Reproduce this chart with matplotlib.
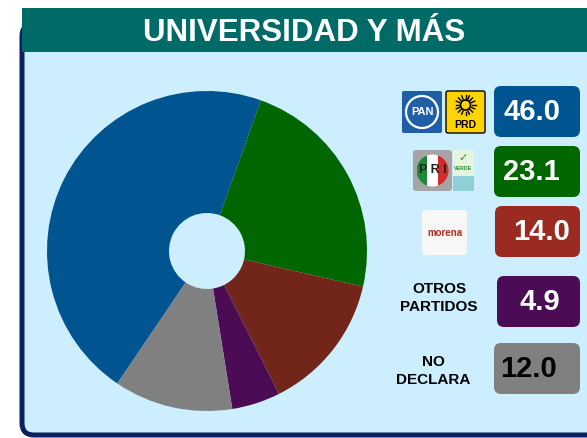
import numpy as np
import matplotlib
matplotlib.use("Agg")
import matplotlib.pyplot as plt
from matplotlib.patches import Rectangle, FancyBboxPatch, Circle

plt.rcParams['font.family'] = ['Liberation Sans', 'DejaVu Sans']

W, H = 587, 438

title = "UNIVERSIDAD Y MÁS"
partidos = ["PAN-PRD", "PRI-PVEM", "MORENA", "OTROS PARTIDOS", "NO DECLARA"]
valores = [46.0, 23.1, 14.0, 4.9, 12.0]
colores_pie = ["#00548f", "#006600", "#722519", "#4b0c55", "#808080"]
colores_caja = ["#00548f", "#006600", "#9b2b20", "#4b0c55", "#808080"]
color_texto = ["white", "white", "white", "white", "black"]

# posiciones de las cajas en pixeles de la imagen (x0, x1, y0, y1)
cajas = [(494, 580, 86, 137), (494, 580, 146, 197), (495, 580, 206, 257),
         (497, 580, 276, 327), (494, 580, 343, 394)]
texto_x = [532, 531, 542, 540, 528]


def Y(y):
    return H - y


fig = plt.figure(figsize=(W / 100, H / 100), dpi=100)
ax = fig.add_axes([0, 0, 1, 1])
ax.set_xlim(0, W)
ax.set_ylim(0, H)
ax.axis("off")

# panel con borde azul marino
panel = FancyBboxPatch((22, Y(435)), 640, 435 - 24,
                       boxstyle="round,pad=0,rounding_size=12",
                       facecolor="#cceeff", edgecolor="#0a2060", lw=3.6)
ax.add_patch(panel)
ax.add_patch(Rectangle((22, Y(52)), W - 22, 44, facecolor="#006b66", lw=0))
ax.text(304, Y(41), title, color="white", fontsize=22.5, fontweight="bold",
        ha="center", va="baseline")

# dona
ax.pie(valores, colors=colores_pie, center=(207, Y(251)), radius=160,
       startangle=90 - 214.1, counterclock=False,
       wedgeprops=dict(width=122, linewidth=0))
ax.set_xlim(0, W)
ax.set_ylim(0, H)
ax.set_aspect("auto")
ax.axis("off")

# cajas con valores
for i, v in enumerate(valores):
    x0, x1, y0, y1 = cajas[i]
    ax.add_patch(FancyBboxPatch((x0, Y(y1)), x1 - x0, y1 - y0,
                                boxstyle="round,pad=0,rounding_size=7",
                                facecolor=colores_caja[i], edgecolor="none"))
    ax.text(texto_x[i], Y((y0 + y1) / 2 + 8.5), f"{v:.1f}", color=color_texto[i],
            fontsize=21, fontweight="bold", ha="center", va="baseline")

# logos simplificados
# PAN
ax.add_patch(FancyBboxPatch((402, Y(133)), 40, 42, boxstyle="round,pad=0,rounding_size=2",
                            facecolor="#1f5fa8", edgecolor="none"))
ax.add_patch(Circle((422, Y(112)), 16, facecolor="#1f5fa8", edgecolor="white", lw=1.6))
ax.text(422, Y(112), "PAN", color="white", fontsize=8, fontweight="bold",
        ha="center", va="center")
# PRD
ax.add_patch(FancyBboxPatch((446, Y(133)), 39, 42, boxstyle="round,pad=0,rounding_size=2",
                            facecolor="#ffd400", edgecolor="black", lw=1))
ax.add_patch(Circle((465.5, Y(105)), 5, facecolor="#ffd400", edgecolor="black", lw=1.2))
for a in np.linspace(0, 2 * np.pi, 17)[:-1]:
    ax.plot([465.5 + 6.5 * np.cos(a), 465.5 + 10 * np.cos(a)],
            [Y(105) + 6.5 * np.sin(a), Y(105) + 10 * np.sin(a)], color="black", lw=1)
ax.text(465.5, Y(125), "PRD", color="black", fontsize=7.5, fontweight="bold",
        ha="center", va="center")
# PRI
ax.add_patch(FancyBboxPatch((413, Y(191)), 39, 41, boxstyle="round,pad=0,rounding_size=3",
                            facecolor="#a5a5a5", edgecolor="none"))
circ = Circle((432.5, Y(170.5)), 16, facecolor="none", edgecolor="none")
ax.add_patch(circ)
for k, c in enumerate(["#1a8a3a", "white", "#d42a2a"]):
    r = Rectangle((416.5 + k * 32 / 3, Y(187)), 32 / 3, 33, facecolor=c, lw=0)
    ax.add_patch(r)
    r.set_clip_path(circ)
ax.text(432.5, Y(170), "P R I", color="#222222", fontsize=9, fontweight="bold",
        ha="center", va="center")
# PVEM
ax.add_patch(FancyBboxPatch((453, Y(191)), 21, 41, boxstyle="round,pad=0,rounding_size=2",
                            facecolor="#e6f5e0", edgecolor="none"))
ax.add_patch(Rectangle((453, Y(191)), 21, 15, facecolor="#8fd0d8", lw=0))
ax.text(463.5, Y(169), "VERDE", color="#2e8b2e", fontsize=3.8, fontweight="bold",
        ha="center", va="center")
ax.text(463.5, Y(158), "✓", color="#2e8b2e", fontsize=8, fontweight="bold",
        ha="center", va="center", family="DejaVu Sans")
# MORENA
ax.add_patch(FancyBboxPatch((422, Y(255)), 45, 45, boxstyle="round,pad=0,rounding_size=3",
                            facecolor="#f7f7f7", edgecolor="none"))
ax.text(444.5, Y(233), "morena", color="#b5291f", fontsize=7, fontweight="bold",
        ha="center", va="center")

# etiquetas de texto
ax.text(439, Y(298), "OTROS\nPARTIDOS", color="black", fontsize=11, fontweight="bold",
        ha="center", va="center", linespacing=1.3)
ax.text(433, Y(371), "NO\nDECLARA", color="black", fontsize=11, fontweight="bold",
        ha="center", va="center", linespacing=1.3)

fig.savefig("out.png", dpi=100)
